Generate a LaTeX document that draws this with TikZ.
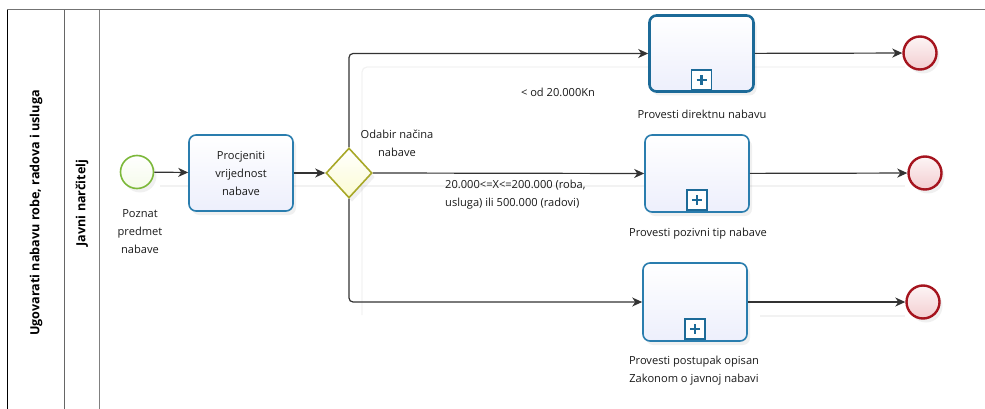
\documentclass[tikz,border=0pt]{standalone}
\usepackage{fontspec}
\setmainfont{Open Sans}
\usetikzlibrary{arrows.meta,shadows,shapes.geometric,calc}
\definecolor{flow}{HTML}{333333}
\definecolor{taskb}{HTML}{2A7DAE}
\definecolor{taskbd}{HTML}{1C6A98}
\definecolor{taskf}{HTML}{EDEFFC}
\definecolor{startb}{HTML}{7CB83A}
\definecolor{startf}{HTML}{F5FBEA}
\definecolor{endb}{HTML}{A5141E}
\definecolor{endf}{HTML}{F3CDD0}
\definecolor{gateb}{HTML}{A8A828}
\definecolor{gatef}{HTML}{FBFBD2}
\tikzset{
  txt/.style={font=\fontsize{11.1}{18}\selectfont, align=center, inner sep=0pt, text=black!90},
  task/.style={draw=taskb, line width=1.6pt, rounded corners=7pt, top color=white, bottom color=taskf,
     drop shadow={opacity=0.12, shadow xshift=3pt, shadow yshift=-4pt}},
  startev/.style={circle, draw=startb, line width=1.6pt, inner sep=0pt, minimum size=33pt,
     top color=white, bottom color=startf, drop shadow={opacity=0.12, shadow xshift=3pt, shadow yshift=-4pt}},
  endev/.style={circle, draw=endb, line width=2.4pt, inner sep=0pt, minimum size=33pt,
     top color=white!80!endf, bottom color=endf, drop shadow={opacity=0.12, shadow xshift=3pt, shadow yshift=-4pt}},
  gate/.style={diamond, draw=gateb, line width=1.6pt, inner sep=0pt, minimum width=46pt, minimum height=50pt,
     top color=white, bottom color=gatef, drop shadow={opacity=0.12, shadow xshift=3pt, shadow yshift=-4pt}},
  flowline/.style={draw=flow, line width=1.2pt, rounded corners=4pt, -{Stealth[length=10pt,width=9pt,inset=3pt]}},
  ghost/.style={draw=black!5, line width=1.2pt, rounded corners=5pt},
  lane/.style={line width=1pt},
  hdr/.style={font=\bfseries\fontsize{12.6}{14}\selectfont, rotate=90, inner sep=0pt},
}
\newcommand{\submarker}[1]{%
  \draw[taskbd, line width=1.6pt, fill=white] ($(#1.south)+(-10,-3)$) rectangle ($(#1.south)+(10,-23)$);
  \draw[taskbd, line width=2.4pt] ($(#1.south)+(-5,-13)$) -- ($(#1.south)+(5,-13)$)
     ($(#1.south)+(0,-8)$) -- ($(#1.south)+(0,-18)$);}
\begin{document}
\begin{tikzpicture}[x=1pt,y=-1pt]
\useasboundingbox (0,0) rectangle (985,409);
% pool and lane
\draw[lane, black!55] (7,10) -- (985,10);
\draw[lane, black] (7,10) -- (7,409);
\draw[lane, black!60] (64.5,10) -- (64.5,409);
\draw[lane, black!50] (99,10) -- (99,409);
\node[hdr] (pool) at (36,213) {Ugovarati nabavu robe, radova i usluga};
\node[hdr] (lanelbl) at (82,203) {Javni narčitelj};
% ghost shadows of connectors
\draw[ghost] (362,315) -- (362,67) -- (905,67);
\draw[ghost] (160,186) -- (905,186);
\draw[ghost] (760,316) -- (905,316);
% nodes
\node[startev] (start) at (137,172) {};
\node[txt] (startlbl) at (140,232) {Poznat\\predmet\\nabave};
\node[task, minimum width=104pt, minimum height=76pt] (t1) at (241,173) {};
\node[txt] at (t1) {Procjeniti\\vrijednost\\nabave};
\node[gate] (gw) at (349,173) {};
\node[txt] (gwlbl) at (397,143) {Odabir načina\\nabave};
\node[task, draw=taskbd, line width=2.6pt, minimum width=104pt, minimum height=76pt] (s1) at (701.5,53.5) {};
\node[task, minimum width=104pt, minimum height=77pt] (s2) at (697,173.5) {};
\node[task, minimum width=104pt, minimum height=78pt] (s3) at (695,302) {};
\node[txt] (s1lbl) at (702,114) {Provesti direktnu nabavu};
\node[txt] (s2lbl) at (698,234) {Provesti pozivni tip nabave};
\node[txt] (s3lbl) at (694,371) {Provesti postupak opisan\\Zakonom o javnoj nabavi};
\node[endev] (e1) at (920,53) {};
\node[endev] (e2) at (925,173) {};
\node[endev] (e3) at (923,302) {};
\submarker{s1}
\submarker{s2}
\submarker{s3}
% connectors
\draw[flowline] (start) -- (t1);
\draw[flowline] (t1) -- (gw);
\draw[flowline] (gw.north) |- (s1.west);
\draw[flowline] (gw.east) -- (s2.west);
\draw[flowline] (gw.south) |- (s3.west);
\draw[flowline] (s1) -- (e1);
\draw[flowline] (s2) -- (e2);
\draw[flowline] (s3) -- (e3);
% condition labels
\node[txt] (c1) at (558,92) {< od 20.000Kn};
\node[txt, align=left, anchor=west] (c2) at (445,195) {20.000<=X<=200.000 (roba,\\usluga) ili 500.000 (radovi)};
\end{tikzpicture}
\end{document}
